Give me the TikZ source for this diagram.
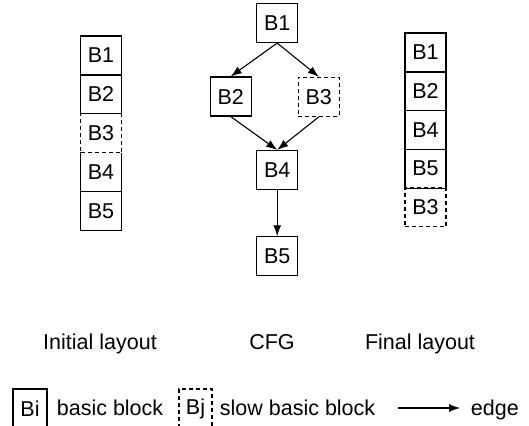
\documentclass[tikz,border=0pt]{standalone}
\usepackage{fontspec}
\setmainfont{Liberation Sans}
\usetikzlibrary{arrows.meta}
\begin{document}
\begin{tikzpicture}[x=1pt,y=-1pt,line width=1.1pt,>={Latex[length=11pt,width=8pt]}]

	\tikzset{
	  block/.style={
		draw,
		inner sep=0pt,
		minimum width=41pt,
		minimum height=39pt,
		font=\fontsize{21.5}{25}\selectfont,
	  },
	  slow/.style={
		block,
		fill=white,
		dash pattern=on 4pt off 3pt,
	  },
	  caption/.style={
		anchor=base,
		font=\fontsize{21.5}{25}\selectfont,
	  },
	}
	\useasboundingbox (0,0) rectangle (529,425);
	\clip (0,0) rectangle (529,425);
	% initial layout
	\node[block] (i1) at (101,55.5) {B1};
	\node[block] (i2) at (101,94.4) {B2};
	\node[block] (i4) at (101,172.2) {B4};
	\node[block] (i5) at (101,211.1) {B5};
	\node[slow] (i3) at (101,133.3) {B3};
	% CFG
	\node[block] (c1) at (277.2,23) {B1};
	\node[block] (c2) at (230.7,96.5) {B2};
	\node[slow] (c3) at (318.8,96.8) {B3};
	\node[block] (c4) at (277.2,170) {B4};
	\node[block] (c5) at (277.2,256.3) {B5};
	\draw[->] (c1.south)--(c2.north);
	\draw[->] (c1.south)--(c3.north);
	\draw[->] (c2.south)--(c4.north);
	\draw[->] (c3.south)--(c4.north);
	\draw[->] (c4.south)--(c5.north);
	% final layout
	\node[slow] (f3) at (425.5,207.2) {B3};
	\node[block] (f1) at (425.5,52.5) {B1};
	\node[block] (f2) at (425.5,91.2) {B2};
	\node[block] (f4) at (425.5,129.9) {B4};
	\node[block] (f5) at (425.5,168.6) {B5};
	% captions
	\node[caption] (initial) at (100,349) {Initial layout};
	\node[caption] (cfg) at (272,349) {CFG};
	\node[caption] (final) at (420,349) {Final layout};
	% legend
	\node[block,minimum width=34pt] (bi) at (30,408.5) {Bi};
	\node[caption,anchor=base west] (bitext) at (53,415.5) {basic block};
	\node[slow,minimum width=33pt] (bj) at (195.5,408.5) {Bj};
	\node[caption,anchor=base west] (bjtext) at (216,415.5) {slow basic block};
	\coordinate (e0) at (398,408);
	\coordinate (e1) at (460,408);
	\draw[->] (e0)--(e1);
	\node[caption,anchor=base west] (edge) at (467,415.5) {edge};

\end{tikzpicture}
\end{document}
